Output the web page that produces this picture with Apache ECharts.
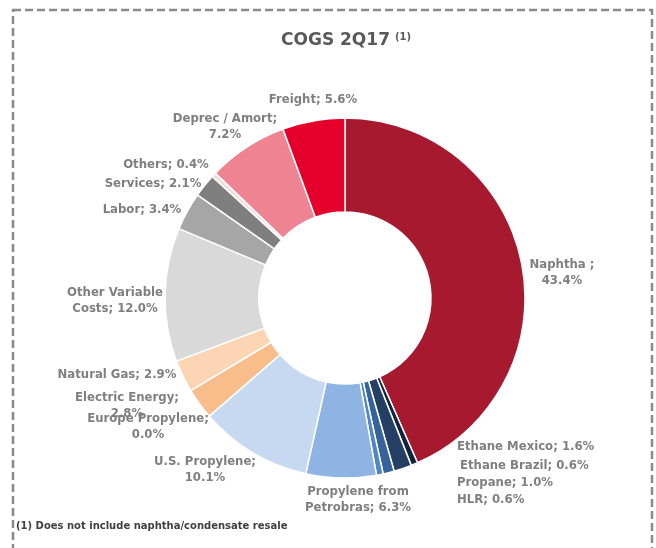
<!DOCTYPE html>
<html>
<head>
<meta charset="utf-8">
<script src="https://cdn.jsdelivr.net/npm/echarts@6/dist/echarts.min.js"></script>
<style>html,body{margin:0;padding:0;background:#fff}#c{width:656px;height:548px}</style>
</head>
<body>
<div id="c"></div>
<script>
// Data (clockwise from 12 o'clock)
var categories = ['Naphtha ', 'Ethane Brazil', 'Ethane Mexico', 'Propane', 'HLR', 'Propylene from\nPetrobras', 'U.S. Propylene', 'Europe Propylene', 'Electric Energy', 'Natural Gas', 'Other Variable\nCosts', 'Labor', 'Services', 'Others', 'Deprec / Amort', 'Freight'];
var values = [43.4, 0.6, 1.6, 1.0, 0.6, 6.3, 10.1, 0.0, 2.8, 2.9, 12.0, 3.4, 2.1, 0.4, 7.2, 5.6];
var wrapAfterSemicolon = [true, false, false, false, false, false, true, true, true, false, false, false, false, false, true, false];
var colors = ['#A6192E', '#13233A', '#243F63', '#35639B', '#4F86C6', '#8EB4E3', '#C6D9F1', '#F5B07A', '#F9BD8C', '#FCD5B5', '#D9D9D9', '#A6A6A6', '#7F7F7F', '#F2DCDB', '#EE8391', '#E4002B'];
// label anchor positions (x, y, align)
var labelPos = [
  [562, 273, 'center'], [460, 466, 'left'], [457, 447, 'left'], [457, 483, 'left'], [457, 500, 'left'],
  [358, 500, 'center'], [205, 470, 'center'], [148, 427, 'center'], [127, 406, 'center'], [117, 375, 'center'],
  [115, 301, 'center'], [142, 210, 'center'], [153, 184, 'center'], [166, 165, 'center'], [225, 127, 'center'], [313, 100, 'center']
];

var data = categories.map(function (n, i) {
  return { name: n, value: values[i], itemStyle: { color: colors[i] } };
});

var chart = echarts.init(document.getElementById('c'), null, { renderer: 'canvas' });
chart.setOption({
  animation: false,
  backgroundColor: '#fff',
  title: {
    text: '{a|COGS 2Q17} {b|(1)}',
    left: 276, top: 27,
    textStyle: {
      rich: {
        a: { fontFamily: 'DejaVu Sans', fontWeight: 'bold', fontSize: 17, color: '#595959' },
        b: { fontFamily: 'DejaVu Sans', fontWeight: 'bold', fontSize: 10, color: '#595959', verticalAlign: 'top', padding: [0, 0, 8, 0] }
      }
    }
  },
  graphic: [
    { type: 'rect', shape: { x: 13, y: 10, width: 639, height: 580 }, style: { fill: 'none', stroke: '#8a8a8a', lineWidth: 2.5, lineDash: [8, 4] }, silent: true },
    { type: 'text', left: 16, top: 521, style: { text: '(1) Does not include naphtha/condensate resale', fontFamily: 'DejaVu Sans', fontWeight: 'bold', fontSize: 10, fill: '#404040' } }
  ],
  series: [{
    type: 'pie',
    center: [345, 298],
    radius: [86, 180],
    startAngle: 90,
    clockwise: true,
    avoidLabelOverlap: false,
    itemStyle: { borderColor: '#fff', borderWidth: 1.5 },
    label: {
      show: true,
      position: 'outside',
      fontFamily: 'DejaVu Sans',
      fontWeight: 'bold',
      fontSize: 11.7,
      lineHeight: 16,
      color: '#7F7F7F',
      formatter: function (p) {
        var i = p.dataIndex;
        return categories[i] + ';' + (wrapAfterSemicolon[i] ? '\n' : ' ') + values[i].toFixed(1) + '%';
      }
    },
    labelLine: { show: false },
    labelLayout: function (p) {
      var lp = labelPos[p.dataIndex];
      return { x: lp[0], y: lp[1], align: lp[2], verticalAlign: 'middle', hideOverlap: false };
    },
    emphasis: { disabled: true },
    data: data
  }]
});
</script>
</body>
</html>
